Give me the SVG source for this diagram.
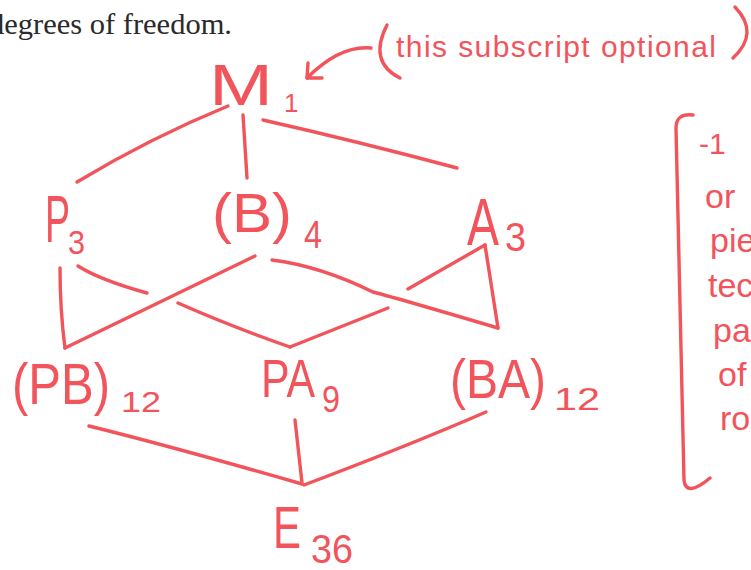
<svg xmlns="http://www.w3.org/2000/svg" width="751" height="570" viewBox="0 0 751 570">
<style>
.ink{fill:none;stroke:#f2545c;stroke-width:3.4;stroke-linecap:round;stroke-linejoin:round}
.hw{fill:#f2545c;font-family:"Liberation Sans","DejaVu Sans",sans-serif}
.pr{fill:#2a2a2a;font-family:"Liberation Serif","DejaVu Serif",serif}
</style>
<rect width="751" height="570" fill="#ffffff"/>
<text class="pr" x="-11" y="34" font-size="30" textLength="243" lengthAdjust="spacingAndGlyphs">degrees of freedom.</text>

<g id="connectors" class="ink">
<path d="M77,182 Q150,138 228,106"/>
<path d="M243,115 L247,178"/>
<path d="M263,120 Q360,142 457,168"/>
<path d="M60,268 Q60,310 65,348"/>
<path d="M65,348 L255,256"/>
<path d="M78,266 Q100,280 147,293"/>
<path d="M178,303 Q230,326 290,347"/>
<path d="M290,347 L388,308"/>
<path d="M408,289 L485,245"/>
<path d="M272,260 Q320,266 373,292 Q400,299 498,328"/>
<path d="M485,245 L498,328"/>
<path d="M89,426 Q170,446 302,484"/>
<path d="M295,420 L302,483"/>
<path d="M486,412 Q410,445 304,485"/>
</g>

<g id="node-M">
<text class="hw" x="209" y="105" font-size="58" textLength="64" lengthAdjust="spacingAndGlyphs">M</text>
<text class="hw" x="284" y="112" font-size="26">1</text>
</g>
<g id="node-P">
<text class="hw" x="45" y="242" font-size="66" textLength="25" lengthAdjust="spacingAndGlyphs">P</text>
<text class="hw" x="68" y="254" font-size="34" textLength="17" lengthAdjust="spacingAndGlyphs">3</text>
</g>
<g id="node-B">
<text class="hw" x="212" y="232" font-size="56" textLength="80" lengthAdjust="spacingAndGlyphs">(B)</text>
<text class="hw" x="304" y="248" font-size="38" textLength="18" lengthAdjust="spacingAndGlyphs">4</text>
</g>
<g id="node-A">
<text class="hw" x="467" y="245" font-size="66" textLength="32" lengthAdjust="spacingAndGlyphs">A</text>
<text class="hw" x="505" y="251" font-size="40" textLength="21" lengthAdjust="spacingAndGlyphs">3</text>
</g>
<g id="node-PB">
<text class="hw" x="12" y="404" font-size="58" textLength="98" lengthAdjust="spacingAndGlyphs">(PB)</text>
<text class="hw" x="121" y="412" font-size="30" textLength="40" lengthAdjust="spacingAndGlyphs">12</text>
</g>
<g id="node-PA">
<text class="hw" x="261" y="397" font-size="54" textLength="54" lengthAdjust="spacingAndGlyphs">PA</text>
<text class="hw" x="322" y="412" font-size="36" textLength="18" lengthAdjust="spacingAndGlyphs">9</text>
</g>
<g id="node-BA">
<text class="hw" x="450" y="398" font-size="56" textLength="96" lengthAdjust="spacingAndGlyphs">(BA)</text>
<text class="hw" x="554" y="410" font-size="32" textLength="46" lengthAdjust="spacingAndGlyphs">12</text>
</g>
<g id="node-E">
<text class="hw" x="273" y="548" font-size="60" textLength="28" lengthAdjust="spacingAndGlyphs">E</text>
<text class="hw" x="311" y="563" font-size="40" textLength="42" lengthAdjust="spacingAndGlyphs">36</text>
</g>

<g id="annotation">
<path class="ink" d="M371,48 Q340,45 307,78" stroke-width="3"/>
<path class="ink" d="M308,63 L307,78 L322,78" stroke-width="3"/>
<path class="ink" d="M387,25 Q368,62 400,78" stroke-width="3"/>
<path class="ink" d="M735,7 Q760,33 733,58" stroke-width="3"/>
<text class="hw" x="396" y="57" font-size="30" textLength="320" lengthAdjust="spacing">this subscript optional</text>
</g>

<g id="side-note">
<path class="ink" d="M693,115 Q676,113 676,128 L684,480 Q686,498 710,478" stroke-width="3"/>
<text class="hw" x="699" y="154" font-size="30">-1</text>
<text class="hw" x="705" y="208" font-size="34">or</text>
<text class="hw" x="710" y="252" font-size="34">pie</text>
<text class="hw" x="708" y="297" font-size="34">tec</text>
<text class="hw" x="713" y="342" font-size="34">pac</text>
<text class="hw" x="718" y="386" font-size="34">of</text>
<text class="hw" x="720" y="430" font-size="34">ro</text>
</g>
</svg>
